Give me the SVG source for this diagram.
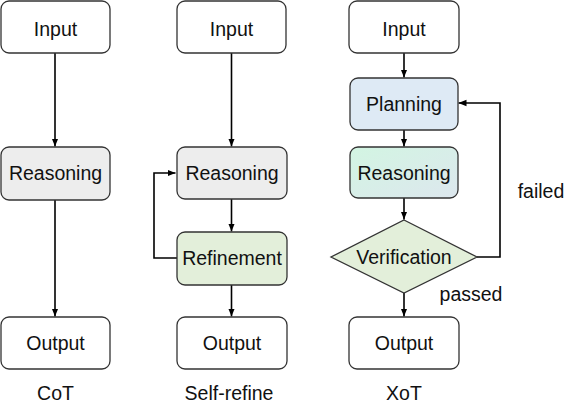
<svg xmlns="http://www.w3.org/2000/svg" width="564" height="404" viewBox="0 0 564 404">
<style>
.box{stroke:#333;stroke-width:1.3}
.w{fill:#ffffff}
.g{fill:#ededed}
.gr{fill:#e3efda}
.bl{fill:#deeaf5}
.t{font-family:"Liberation Sans",Arial,sans-serif;font-size:19.5px;fill:#111;text-anchor:middle}
.c{fill:none;stroke:#000;stroke-width:1.6;marker-end:url(#ah)}
</style>
<defs>
<marker id="ah" markerWidth="8" markerHeight="8" viewBox="0 0 8 8" refX="8" refY="4" orient="auto" markerUnits="userSpaceOnUse">
<path d="M0,0.8 L8,4 L0,7.2 Z" fill="#000"/>
</marker>
<linearGradient id="rg" x1="0" y1="0" x2="1" y2="1">
<stop offset="0" stop-color="#d2f5e2"/>
<stop offset="1" stop-color="#dde7ee"/>
</linearGradient>
</defs>
<g id="connectors">
<path class="c" d="M55,53 V146.5"/>
<path class="c" d="M55,200 V316.5"/>
<path class="c" d="M231.5,53 V146.5"/>
<path class="c" d="M231.5,199 V231.5"/>
<path class="c" d="M231.5,285 V316.5"/>
<path class="c" d="M177,258 H154 V173 H175.5"/>
<path class="c" d="M404,53 V77.5"/>
<path class="c" d="M404,130 V146.5"/>
<path class="c" d="M404,198 V219.5"/>
<path class="c" d="M404,293 V316.5"/>
<path class="c" d="M477,257 H500 V103 H458.5"/>
</g>
<g id="cot-input"><rect class="box w" x="1" y="1" width="109" height="52" rx="8"/><text class="t" x="55.5" y="36">Input</text></g>
<g id="cot-reasoning"><rect class="box g" x="1" y="147" width="109" height="53" rx="8"/><text class="t" x="55.5" y="180">Reasoning</text></g>
<g id="cot-output"><rect class="box w" x="1" y="317" width="109" height="52" rx="8"/><text class="t" x="55.5" y="350">Output</text></g>
<text class="t" x="55.5" y="400">CoT</text>
<g id="sr-input"><rect class="box w" x="177" y="1" width="109" height="52" rx="8"/><text class="t" x="231.5" y="36">Input</text></g>
<g id="sr-reasoning"><rect class="box g" x="177" y="147" width="110" height="52" rx="8"/><text class="t" x="232" y="180">Reasoning</text></g>
<g id="sr-refinement"><rect class="box gr" x="177" y="232" width="110" height="53" rx="8"/><text class="t" x="232" y="265">Refinement</text></g>
<g id="sr-output"><rect class="box w" x="177" y="317" width="110" height="52" rx="8"/><text class="t" x="232" y="350">Output</text></g>
<text class="t" x="229" y="400">Self-refine</text>
<g id="x-input"><rect class="box w" x="349" y="1" width="110" height="52" rx="8"/><text class="t" x="404" y="36">Input</text></g>
<g id="x-planning"><rect class="box bl" x="350" y="78" width="108" height="52" rx="8"/><text class="t" x="404" y="111">Planning</text></g>
<g id="x-reasoning"><rect class="box" fill="url(#rg)" x="350" y="147" width="108" height="51" rx="8"/><text class="t" x="404" y="180">Reasoning</text></g>
<g id="x-verification"><polygon class="box gr" points="404,220 477,257 404,293 331,257"/><text class="t" x="404" y="264">Verification</text></g>
<g id="x-output"><rect class="box w" x="349" y="317" width="110" height="52" rx="8"/><text class="t" x="404" y="350">Output</text></g>
<text class="t" x="404" y="400">XoT</text>
<text class="t" x="541" y="198">failed</text>
<text class="t" x="471" y="301">passed</text>
</svg>
